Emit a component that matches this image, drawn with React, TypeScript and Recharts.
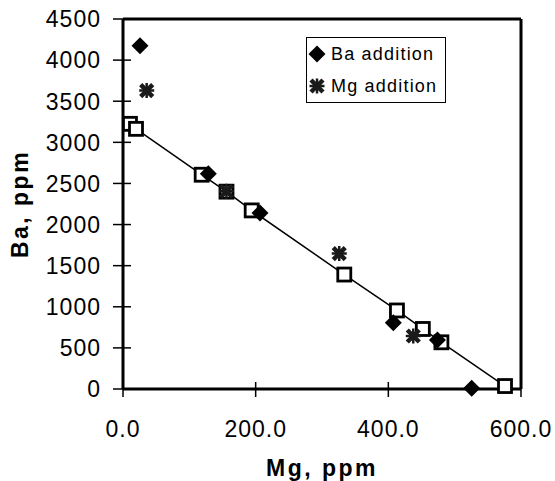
import { ScatterChart, Scatter, XAxis, YAxis, ReferenceLine, Legend } from 'recharts';

// Ba added series (diamonds)
const baAddition = [
  { x: 25.6, y: 4175 },
  { x: 128.6, y: 2618 },
  { x: 206.5, y: 2140 },
  { x: 407.5, y: 805 },
  { x: 474, y: 595 },
  { x: 525.7, y: 10 },
];

// Mg added series (stars)
const mgAddition = [
  { x: 35.7, y: 3629 },
  { x: 156, y: 2405 },
  { x: 326, y: 1647 },
  { x: 437.6, y: 645 },
];

// calculated mixing line (open squares)
const mixing = [
  { x: 10.5, y: 3225 },
  { x: 19.6, y: 3164 },
  { x: 118.6, y: 2606 },
  { x: 156, y: 2400 },
  { x: 194, y: 2172 },
  { x: 333.6, y: 1392 },
  { x: 413, y: 955 },
  { x: 452, y: 730 },
  { x: 480, y: 568 },
  { x: 575.9, y: 36 },
];

const xTicks = [0, 200, 400, 600];
const yTicks = [0, 500, 1000, 1500, 2000, 2500, 3000, 3500, 4000, 4500];

const FONT = "'Liberation Sans', Arial, sans-serif";

const Diamond = ({ cx, cy }: any) => (
  <path d={`M${cx},${cy - 8.5}L${cx + 8.5},${cy}L${cx},${cy + 8.5}L${cx - 8.5},${cy}Z`} fill="#000" />
);

const Star = ({ cx, cy }: any) => (
  <g stroke="#1a1a1a" fill="#1a1a1a">
    <path d={`M${cx - 6},${cy - 6}L${cx + 6},${cy + 6}M${cx + 6},${cy - 6}L${cx - 6},${cy + 6}`} strokeWidth={4.5} />
    <path d={`M${cx - 7.5},${cy}L${cx + 7.5},${cy}M${cx},${cy - 7.5}L${cx},${cy + 7.5}`} strokeWidth={2.5} />
    <rect x={cx - 3.5} y={cy - 3.5} width={7} height={7} stroke="none" />
  </g>
);

const Square = ({ cx, cy }: any) => (
  <rect x={cx - 6.5} y={cy - 6.5} width={13} height={13} fill="#fff" stroke="#000" strokeWidth={2.8} />
);

const YTick = ({ x, y, payload }: any) => (
  <g>
    <line x1={x - 10} x2={x + 8} y1={y} y2={y} stroke="#000" strokeWidth={1.5} />
    <text x={x - 22} y={y} dy="0.36em" textAnchor="end" fontSize={23} letterSpacing={1} fontFamily={FONT} fill="#000">
      {payload.value}
    </text>
  </g>
);

const XTick = ({ x, y, payload }: any) => (
  <g>
    <line x1={x} x2={x} y1={y - 7} y2={y + 8} stroke="#000" strokeWidth={1.5} />
    <text x={x} y={y + 48} textAnchor="middle" fontSize={23} letterSpacing={1} fontFamily={FONT} fill="#000">
      {payload.value.toFixed(1)}
    </text>
  </g>
);

const LegendBox = ({ payload }: any) => (
  <div
    style={{
      border: '1.5px solid #000',
      background: '#fff',
      width: 138,
      height: 64,
      boxSizing: 'content-box',
      fontFamily: FONT,
      fontSize: 18,
      letterSpacing: 1.2,
    }}
  >
    {(payload || [])
      .filter((entry: any) => entry.type !== 'none')
      .map((entry: any) => (
        <div key={entry.value} style={{ display: 'flex', alignItems: 'center', height: 32 }}>
          <svg width={24} height={20} style={{ flex: 'none' }}>
            {entry.value === 'Ba addition' ? <Diamond cx={10} cy={10} /> : <Star cx={10} cy={10} />}
          </svg>
          <span>{entry.value}</span>
        </div>
      ))}
  </div>
);

export default function App() {
  return (
    <div style={{ width: 555, height: 481, background: '#fff' }}>
      <style>{'body{margin:0}'}</style>
      <ScatterChart width={555} height={481} margin={{ top: 19, right: 34, bottom: 32, left: 0 }}>
        <XAxis
          type="number"
          dataKey="x"
          domain={[0, 600]}
          ticks={xTicks}
          height={60}
          tickSize={0}
          tickMargin={0}
          tickLine={false}
          axisLine={{ stroke: '#000', strokeWidth: 3 }}
          tick={<XTick />}
          label={{
            content: ({ viewBox }: any) => (
              <text
                x={viewBox.x + viewBox.width / 2}
                y={viewBox.y + 87}
                textAnchor="middle"
                fontSize={23}
                fontWeight="bold"
                letterSpacing={2.5}
                fontFamily={FONT}
                fill="#000"
              >
                Mg, ppm
              </text>
            ),
          }}
        />
        <YAxis
          type="number"
          dataKey="y"
          domain={[0, 4500]}
          ticks={yTicks}
          width={123}
          tickSize={0}
          tickMargin={0}
          tickLine={false}
          axisLine={{ stroke: '#000', strokeWidth: 3 }}
          tick={<YTick />}
          label={{
            content: ({ viewBox }: any) => {
              const cx = 28;
              const cy = viewBox.y + viewBox.height / 2;
              return (
                <text
                  x={cx}
                  y={cy}
                  transform={`rotate(-90, ${cx}, ${cy})`}
                  textAnchor="middle"
                  fontSize={23}
                  fontWeight="bold"
                  letterSpacing={2.5}
                  fontFamily={FONT}
                  fill="#000"
                >
                  Ba, ppm
                </text>
              );
            },
          }}
        />
        <ReferenceLine y={4500} stroke="#000" strokeWidth={3} />
        <ReferenceLine x={600} stroke="#000" strokeWidth={3} />
        <Legend
          layout="vertical"
          align="center"
          verticalAlign="middle"
          wrapperStyle={{ top: 37, left: 306, right: 'auto', bottom: 'auto', width: 141, height: 67 }}
          content={<LegendBox />}
        />
        <Scatter
          name="mixing"
          data={mixing}
          shape={<Square />}
          line={{ stroke: '#000', strokeWidth: 1.5 }}
          legendType="none"
          isAnimationActive={false}
        />
        <Scatter name="Ba addition" data={baAddition} shape={<Diamond />} isAnimationActive={false} />
        <Scatter name="Mg addition" data={mgAddition} shape={<Star />} isAnimationActive={false} />
      </ScatterChart>
    </div>
  );
}
